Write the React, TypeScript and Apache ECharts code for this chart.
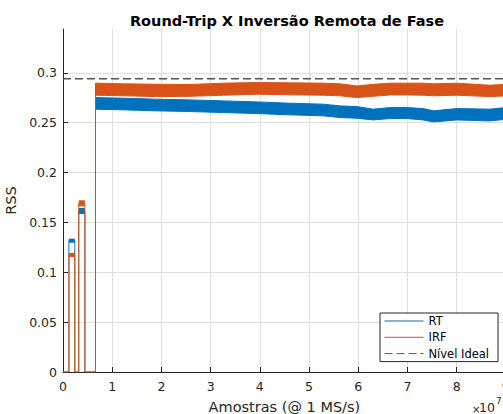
import React, { useEffect, useRef } from "react";
import * as echarts from "echarts";

// ---- data (x in units of 1e7 samples) ----
const stepX = [0, 0.12, 0.12, 0.24, 0.24, 0.32, 0.32, 0.445, 0.445, 0.66, 0.66];
const rtStep = [0, 0, 0.1317, 0.1317, 0, 0, 0.1615, 0.1615, 0, 0, 0.2694];
const irfStep = [0, 0, 0.1174, 0.1174, 0, 0, 0.1692, 0.1692, 0, 0, 0.2836];

const pulseStart = [0.12, 0.32];
const pulseEnd = [0.24, 0.445];
const rtPulse = [0.1317, 0.1615];
const irfPulse = [0.1174, 0.1692];

const bandX = [0.66, 1.23, 1.9, 2.58, 3.26, 3.94, 4.61, 5.29, 5.63, 5.97, 6.31, 6.65, 6.99, 7.32, 7.53, 8.0, 8.68, 9.0];
const rtUpper = [0.2752, 0.2746, 0.2736, 0.2729, 0.2719, 0.2709, 0.2696, 0.2686, 0.2669, 0.2662, 0.2636, 0.2652, 0.2652, 0.2642, 0.2619, 0.2642, 0.2636, 0.2652];
const rtLower = [0.2636, 0.2629, 0.2619, 0.2612, 0.2602, 0.2592, 0.2579, 0.2569, 0.2552, 0.2545, 0.2528, 0.2542, 0.2542, 0.2528, 0.2508, 0.2528, 0.2518, 0.2535];
const irfUpper = [0.2897, 0.289, 0.2886, 0.2883, 0.2897, 0.2903, 0.29, 0.2897, 0.289, 0.2869, 0.2885, 0.2897, 0.2897, 0.2897, 0.289, 0.2897, 0.2876, 0.2886];
const irfLower = [0.2776, 0.277, 0.2762, 0.2765, 0.2776, 0.2786, 0.278, 0.2776, 0.277, 0.2752, 0.2765, 0.2779, 0.2779, 0.2776, 0.277, 0.2776, 0.2762, 0.2769];

const idealLevel = 0.294;
const xTicksMax = 9;
const yMax = 0.344;

const BLUE = "#0072BD";
const ORANGE = "#D95319";
const FONT = "DejaVu Sans";
const TXT = "#262626";

function bandSeries(name: string, color: string, lower: number[], upper: number[]) {
  return {
    name: name + "_band",
    type: "custom",
    clip: true,
    data: bandX.map((x, i) => [x, lower[i], upper[i]]),
    encode: { x: 0, y: [1, 2] },
    renderItem: (params: any, api: any) => {
      if (params.dataIndex !== 0) return null;
      const top = bandX.map((x, i) => api.coord([x, upper[i]]));
      const bot = bandX.map((x, i) => api.coord([x, lower[i]])).reverse();
      return {
        type: "polygon",
        shape: { points: top.concat(bot) },
        style: { fill: color, stroke: color, lineWidth: 1 },
      };
    },
    z: 3,
  };
}

function pulseSeries(name: string, color: string, vals: number[], widths: number[]) {
  return vals.map((v, i) => ({
    name: name + "_pulse" + i,
    type: "line",
    symbol: "none",
    lineStyle: { width: widths[i], color, cap: "butt" },
    data: [
      [pulseStart[i], v],
      [pulseEnd[i], v],
    ],
    z: 3,
  }));
}

export default function App() {
  const ref = useRef<HTMLDivElement>(null);
  useEffect(() => {
    if (!ref.current) return;
    const chart = echarts.init(ref.current, undefined, { renderer: "svg" });
    const option: any = {
      animation: false,
      backgroundColor: "#ffffff",
      textStyle: { fontFamily: FONT },
      title: {
        text: "Round-Trip X Inversão Remota de Fase",
        left: 282,
        textAlign: "center",
        top: 8,
        textStyle: { fontFamily: FONT, fontSize: 14.5, fontWeight: "bold", color: "#000" },
      },
      grid: { left: 63, right: -2.8, top: 29, bottom: 42, containLabel: false, outerBoundsMode: "none" },
      legend: {
        data: ["RT", "IRF", "Nível Ideal"],
        orient: "vertical",
        left: 380,
        top: 313,
        padding: [2, 9, 2, 4],
        itemGap: 4.3,
        itemWidth: 39,
        itemHeight: 12,
        itemTextGap: 4,
        borderColor: TXT,
        borderWidth: 1,
        backgroundColor: "#fff",
        itemStyle: { opacity: 0, borderWidth: 0 },
        lineStyle: { width: 1 },
        textStyle: { fontFamily: FONT, fontSize: 11.5, color: "#000" },
      },
      xAxis: {
        type: "value",
        min: 0,
        max: xTicksMax,
        interval: 1,
        name: "Amostras (@ 1 MS/s)",
        nameLocation: "middle",
        nameGap: 27,
        nameTextStyle: { fontFamily: FONT, fontSize: 14.5, color: TXT },
        axisLine: { show: true, onZero: false, lineStyle: { color: TXT, width: 1 } },
        axisTick: { show: true, inside: true, length: 5, lineStyle: { color: TXT } },
        axisLabel: { fontFamily: FONT, fontSize: 12.5, color: TXT, margin: 8 },
        splitLine: { show: true, lineStyle: { color: "#dfdfdf", width: 1 } },
      },
      yAxis: {
        type: "value",
        min: 0,
        max: yMax,
        interval: 0.05,
        name: "RSS",
        nameLocation: "middle",
        nameGap: 42,
        nameTextStyle: { fontFamily: FONT, fontSize: 14.5, color: TXT },
        axisLine: { show: true, lineStyle: { color: TXT, width: 1 } },
        axisTick: { show: true, inside: true, length: 5, lineStyle: { color: TXT } },
        axisLabel: { fontFamily: FONT, fontSize: 12.5, color: TXT, margin: 6, showMaxLabel: false },
        splitLine: { show: true, showMaxLine: false, lineStyle: { color: "#dfdfdf", width: 1 } },
      },
      graphic: [
        { type: "text", left: 472, top: 404, style: { text: "×", font: `10px '${FONT}'`, fill: TXT } },
        { type: "text", left: 479, top: 401, style: { text: "10", font: `12.5px '${FONT}'`, fill: TXT } },
        { type: "text", left: 496, top: 396, style: { text: "7", font: `9px '${FONT}'`, fill: TXT } },
      ],
      series: [
        {
          name: "RT",
          type: "line",
          symbol: "none",
          color: BLUE,
          lineStyle: { width: 1, color: BLUE },
          data: stepX.map((x, i) => [x, rtStep[i]]),
          z: 3,
        },
        ...pulseSeries("RT", BLUE, rtPulse, [4, 6]),
        bandSeries("RT", BLUE, rtLower, rtUpper),
        {
          name: "IRF",
          type: "line",
          symbol: "none",
          color: ORANGE,
          lineStyle: { width: 1, color: ORANGE },
          data: stepX.map((x, i) => [x, irfStep[i]]),
          z: 3,
        },
        ...pulseSeries("IRF", ORANGE, irfPulse, [4, 6]),
        bandSeries("IRF", ORANGE, irfLower, irfUpper),
        {
          name: "Nível Ideal",
          type: "line",
          symbol: "none",
          color: "#000",
          lineStyle: { width: 1.5, color: "#555", type: [8, 4] },
          data: [
            [0, idealLevel],
            [xTicksMax, idealLevel],
          ],
          z: 4,
        },
      ],
    };
    chart.setOption(option);
    return () => chart.dispose();
  }, []);
  return <div ref={ref} style={{ position: "fixed", left: 0, top: 0, width: 503, height: 414 }} />;
}
